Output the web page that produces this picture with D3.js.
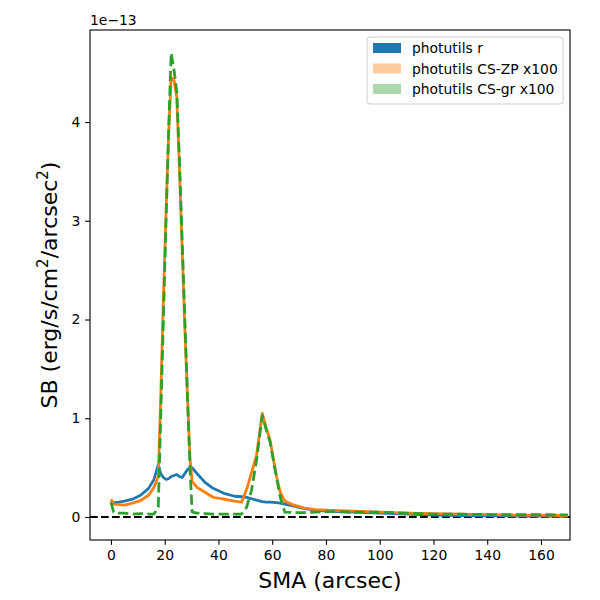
<!DOCTYPE html>
<html>
<head>
<meta charset="utf-8">
<script src="https://cdn.jsdelivr.net/npm/d3@7"></script>
<style>
  body { margin: 0; background: #fff; }
  text { font-family: "DejaVu Sans", sans-serif; }
</style>
</head>
<body>
<svg id="chart" width="600" height="600"></svg>
<script>
// semi-major axis samples (arcsec)
var sma = [0, 1, 3, 5, 8, 11, 14, 16, 17.6, 18.5, 19.5, 20.5, 21.5, 22.4, 23.5, 24.5, 25.5, 26.5, 27.5, 28.5,
  29.4, 30.2, 32, 35, 38, 42, 46, 48.6, 50.5, 52.3, 54.2, 56.3, 57.8, 59.2, 61.6, 63, 64.7, 68, 72, 76,
  80, 90, 100, 110, 120, 130, 140, 150, 160, 170];

// surface brightness, units of 1e-13
var sbR = [0.15, 0.145, 0.15, 0.16, 0.18, 0.22, 0.29, 0.38, 0.53, 0.44, 0.40, 0.38, 0.39, 0.41, 0.42, 0.43, 0.41, 0.40, 0.44, 0.48,
  0.50, 0.50, 0.44, 0.35, 0.29, 0.24, 0.21, 0.205, 0.20, 0.185, 0.17, 0.155, 0.15, 0.15, 0.145, 0.14, 0.13, 0.11, 0.085, 0.07,
  0.06, 0.05, 0.04, 0.03, 0.02, 0.015, 0.012, 0.01, 0.008, 0.006];

var sbZP = [0.18, 0.13, 0.125, 0.12, 0.14, 0.165, 0.22, 0.30, 0.41, 1.2, 2.2, 3.1, 3.9, 4.45, 4.42, 4.25, 3.5, 2.7, 1.9, 1.2,
  0.6, 0.36, 0.30, 0.25, 0.20, 0.18, 0.16, 0.15, 0.28, 0.45, 0.63, 1.05, 0.9, 0.78, 0.41, 0.25, 0.16, 0.12, 0.09, 0.075,
  0.07, 0.06, 0.05, 0.04, 0.035, 0.03, 0.025, 0.02, 0.018, 0.015];

var sbGR = [0.15, 0.05, 0.04, 0.04, 0.03, 0.035, 0.03, 0.03, 0.10, 1.0, 2.0, 3.0, 3.95, 4.70, 4.52, 4.30, 3.6, 2.8, 2.0, 1.2,
  0.5, 0.05, 0.04, 0.035, 0.03, 0.03, 0.03, 0.03, 0.10, 0.27, 0.58, 1.03, 0.88, 0.76, 0.40, 0.20, 0.05, 0.045, 0.045, 0.05,
  0.055, 0.05, 0.048, 0.04, 0.03, 0.028, 0.025, 0.024, 0.023, 0.022];

var xTicks = [0, 20, 40, 60, 80, 100, 120, 140, 160];
var yTicks = [0, 1, 2, 3, 4];
var legendNames = ["photutils r", "photutils CS-ZP x100", "photutils CS-gr x100"];

document.addEventListener('DOMContentLoaded', function () {
  draw();
}, false);

function draw() {
  var left = 90, right = 570, top = 30, bottom = 540;
  var svg = d3.select("#chart");

  var x = d3.scaleLinear().domain([-7.8, 170.8]).range([left, right]);
  var y = d3.scaleLinear().domain([-0.233, 4.932]).range([bottom, top]);

  svg.append("clipPath").attr("id", "clip")
    .append("rect").attr("x", left).attr("y", top)
    .attr("width", right - left).attr("height", bottom - top);

  var g = svg.append("g").attr("clip-path", "url(#clip)");

  // zero line
  g.append("line")
    .attr("x1", left).attr("x2", right)
    .attr("y1", y(0)).attr("y2", y(0))
    .attr("stroke", "black").attr("stroke-width", 2.08)
    .attr("stroke-dasharray", "7.7,3.3");

  var line = function (vals) {
    return d3.line()
      .x(function (d, i) { return x(sma[i]); })
      .y(function (d) { return y(d); })(vals);
  };

  g.append("path").attr("d", line(sbR))
    .attr("fill", "none").attr("stroke", "#1f77b4").attr("stroke-width", 2.78)
    .attr("stroke-linejoin", "round");
  g.append("path").attr("d", line(sbZP))
    .attr("fill", "none").attr("stroke", "#ff7f0e").attr("stroke-width", 2.78)
    .attr("stroke-linejoin", "round");
  g.append("path").attr("d", line(sbGR))
    .attr("fill", "none").attr("stroke", "#2ca02c").attr("stroke-width", 2.78)
    .attr("stroke-linejoin", "round")
    .attr("stroke-dasharray", "10.3,4.4");

  // axes
  var xAxis = svg.append("g").attr("transform", "translate(0," + bottom + ")")
    .call(d3.axisBottom(x).tickValues(xTicks).tickFormat(d3.format("d")).tickSize(4.86).tickPadding(4.86));
  var yAxis = svg.append("g").attr("transform", "translate(" + left + ",0)")
    .call(d3.axisLeft(y).tickValues(yTicks).tickFormat(d3.format("d")).tickSize(4.86).tickPadding(4.86));
  [xAxis, yAxis].forEach(function (a) {
    a.select(".domain").remove();
    a.selectAll("line").attr("stroke", "black").attr("stroke-width", 1.1);
    a.selectAll("text").attr("font-size", "13.9px").attr("fill", "black")
      .attr("font-family", "DejaVu Sans");
  });

  svg.append("rect").attr("x", left).attr("y", top)
    .attr("width", right - left).attr("height", bottom - top)
    .attr("fill", "none").attr("stroke", "black").attr("stroke-width", 1.1);

  svg.append("text").attr("x", left).attr("y", top - 5)
    .attr("font-size", "13.9px").text("1e\u221213");

  svg.append("text").attr("x", (left + right) / 2).attr("y", 588)
    .attr("text-anchor", "middle").attr("font-size", "22px")
    .text("SMA (arcsec)");

  var yl = svg.append("text")
    .attr("transform", "translate(57," + ((top + bottom) / 2) + ") rotate(-90)")
    .attr("text-anchor", "middle").attr("font-size", "22px");
  yl.append("tspan").text("SB (erg/s/cm");
  yl.append("tspan").attr("baseline-shift", "super").attr("font-size", "15px").text("2");
  yl.append("tspan").text("/arcsec");
  yl.append("tspan").attr("baseline-shift", "super").attr("font-size", "15px").text("2");
  yl.append("tspan").text(")");

  // legend
  var lg = svg.append("g").attr("transform", "translate(367,37)");
  lg.append("rect").attr("width", 196).attr("height", 67).attr("rx", 3)
    .attr("fill", "white").attr("fill-opacity", 0.8)
    .attr("stroke", "#cccccc").attr("stroke-width", 1);
  var colors = ["#1f77b4", "#ff7f0e", "#2ca02c"];
  var alphas = [1, 0.4, 0.4];
  lg.selectAll(".item")
    .data(legendNames)
    .enter()
    .append("g")
    .attr("transform", function (d, i) { return "translate(0," + (i * 20.5) + ")"; })
    .each(function (d, i) {
      var it = d3.select(this);
      it.append("rect").attr("x", 6).attr("y", 6).attr("width", 28).attr("height", 10)
        .attr("fill", colors[i]).attr("fill-opacity", alphas[i]);
      it.append("text").attr("x", 45).attr("y", 16).attr("font-size", "13.9px").text(d);
    });
}
</script>
</body>
</html>
